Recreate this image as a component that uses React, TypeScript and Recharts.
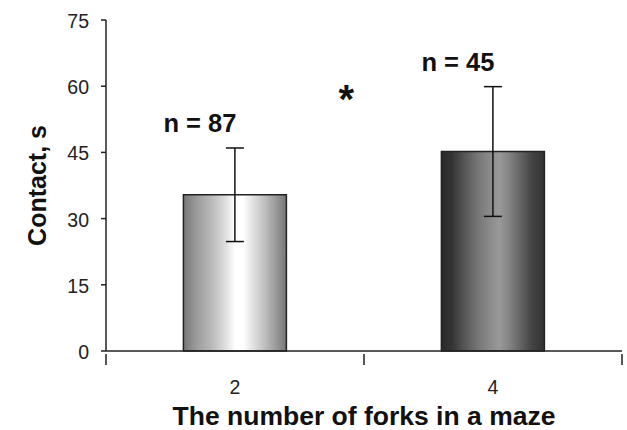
import { Bar, BarChart, Cell, ErrorBar, LabelList, XAxis, YAxis } from 'recharts';

const forks = ['2', '4'];
const contact = [35.4, 45.2];
const contactErr = [10.6, 14.7];
const sampleSize = [87, 45];
const yTicks = [0, 15, 30, 45, 60, 75];

const data = forks.map((f, i) => ({
  forks: f,
  mean: contact[i],
  err: contactErr[i],
  n: sampleSize[i],
}));

const FONT = 'Arial, "Liberation Sans", Helvetica, sans-serif';

const ForkTick = (props: any) => {
  const { x, y, payload, index } = props;
  const half = payload.offset || 0;
  return (
    <g>
      {index === 0 && <line x1={x - half} y1={y - 5} x2={x - half} y2={y + 6} stroke="#222" strokeWidth={1.5} />}
      <line x1={x + half} y1={y - 5} x2={x + half} y2={y + 6} stroke="#222" strokeWidth={1.5} />
      <text x={x} y={y + 35} textAnchor="middle" fontSize={19.5} fill="#222" fontFamily={FONT}>
        {payload.value}
      </text>
    </g>
  );
};

const YTick = (props: any) => {
  const { x, y, payload } = props;
  return (
    <text x={x} y={y + 8} textAnchor="end" fontSize={19.5} fill="#222" fontFamily={FONT}>
      {payload.value}
    </text>
  );
};

const CountLabel = (props: any) => {
  const { x, y, width, height, index, value } = props;
  const perUnit = height / contact[index];
  const errTop = y - contactErr[index] * perUnit;
  const cx = x + width / 2;
  return (
    <g>
      <text x={cx - 35} y={errTop - 16} textAnchor="middle" fontSize={25.5} fontWeight="bold" fill="#111" fontFamily={FONT}>
        {`n = ${value}`}
      </text>
      {index === 1 && (
        <text x={x - 95} y={errTop + 26} textAnchor="middle" fontSize={40} fontWeight="bold" fill="#111" fontFamily={FONT}>
          *
        </text>
      )}
    </g>
  );
};

const App = () => {
  return (
    <div style={{ position: 'absolute', left: 0, top: 0, width: 627, height: 430, background: '#fff' }}>
      <BarChart width={627} height={430} data={data} margin={{ top: 20, right: 5, bottom: 0, left: 0 }} barCategoryGap="30%">
        <defs>
          <linearGradient id="lightBar" x1="0" y1="0" x2="1" y2="0">
            <stop offset="0%" stopColor="#777" />
            <stop offset="12%" stopColor="#999" />
            <stop offset="28%" stopColor="#bbb" />
            <stop offset="42%" stopColor="#e2e2e2" />
            <stop offset="50%" stopColor="#fff" />
            <stop offset="58%" stopColor="#fff" />
            <stop offset="68%" stopColor="#e0e0e0" />
            <stop offset="82%" stopColor="#b5b5b5" />
            <stop offset="92%" stopColor="#929292" />
            <stop offset="100%" stopColor="#777" />
          </linearGradient>
          <linearGradient id="darkBar" x1="0" y1="0" x2="1" y2="0">
            <stop offset="0%" stopColor="#2a2a2a" />
            <stop offset="10%" stopColor="#333" />
            <stop offset="22%" stopColor="#555" />
            <stop offset="36%" stopColor="#777" />
            <stop offset="48%" stopColor="#8c8c8c" />
            <stop offset="56%" stopColor="#999" />
            <stop offset="64%" stopColor="#888" />
            <stop offset="76%" stopColor="#666" />
            <stop offset="88%" stopColor="#444" />
            <stop offset="100%" stopColor="#333" />
          </linearGradient>
        </defs>
        <XAxis
          dataKey="forks"
          height={79}
          axisLine={{ stroke: '#222', strokeWidth: 1.5 }}
          tickLine={false}
          tick={<ForkTick />}
          label={{
            content: (p: any) => {
              const vb = p.viewBox;
              return (
                <text x={vb.x + vb.width / 2} y={vb.y + 74} textAnchor="middle" fontSize={26.5} fontWeight="bold" fill="#111" fontFamily={FONT}>
                  The number of forks in a maze
                </text>
              );
            },
          }}
        />
        <YAxis
          width={106}
          domain={[0, 75]}
          ticks={yTicks}
          interval={0}
          axisLine={{ stroke: '#222', strokeWidth: 1.5 }}
          tickLine={{ stroke: '#222', strokeWidth: 1.5 }}
          tickSize={5}
          tickMargin={12}
          tick={<YTick />}
          label={{
            content: (p: any) => {
              const vb = p.viewBox;
              const cy = vb.y + vb.height / 2;
              return (
                <text x={46} y={cy} transform={`rotate(-90, 46, ${cy})`} textAnchor="middle" fontSize={25} fontWeight="bold" fill="#111" fontFamily={FONT}>
                  Contact, s
                </text>
              );
            },
          }}
        />
        <Bar dataKey="mean" stroke="#222" strokeWidth={1.5} isAnimationActive={false}>
          {data.map((d, i) => (
            <Cell key={d.forks} fill={i === 0 ? 'url(#lightBar)' : 'url(#darkBar)'} />
          ))}
          <ErrorBar dataKey="err" width={9} stroke="#111" strokeWidth={1.5} direction="y" />
          <LabelList dataKey="n" content={<CountLabel />} />
        </Bar>
      </BarChart>
    </div>
  );
};

export default App;
